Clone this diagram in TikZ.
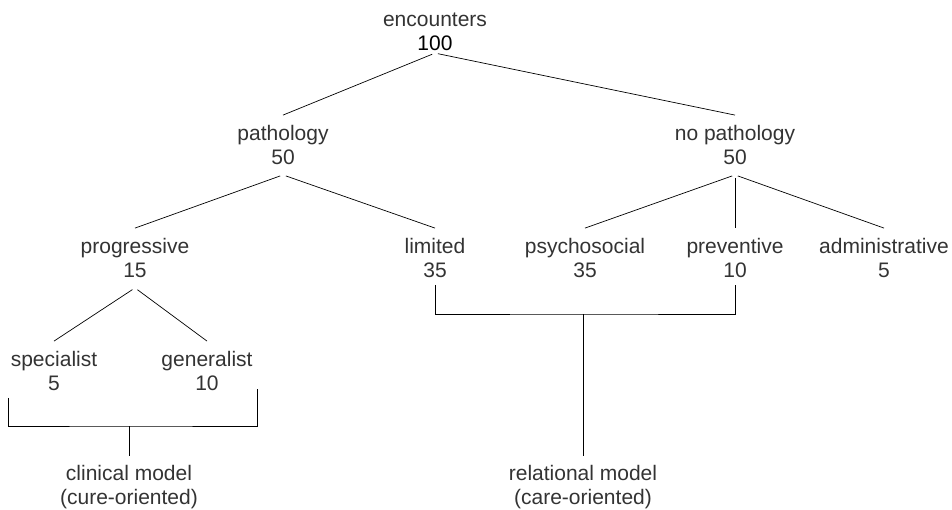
\documentclass[tikz,border=0pt]{standalone}
\usepackage{fontspec}
\setmainfont{Liberation Sans}
\usetikzlibrary{positioning}
\tikzstyle{lbl}     = [align=center, text=black!80, inner xsep=2pt, inner ysep=10pt, font=\fontsize{21}{24}\selectfont]
\tikzstyle{line}    = [draw, line width=0.7pt, shorten <=3pt]
\tikzstyle{bracket} = [draw, line width=0.7pt]

\begin{document}
\begin{tikzpicture}[x=1pt, y=-1pt, node distance=113pt]
	\useasboundingbox (0,0) rectangle (952,509);
	% Node Setting %
	\node [lbl, inner ysep=2pt] (enc) at (435,32) {encounters\\\textcolor{black}{100}};
	\node [lbl, below of = enc, xshift=-152pt] (path) {pathology\\50};
	\node [lbl, below of = enc, xshift=300pt] (nopath) {no pathology\\50};
	\node [lbl, below of = path, xshift=-148pt] (prog) {progressive\\15};
	\node [lbl, below of = path, xshift=152pt] (lim) {limited\\35};
	\node [lbl, below of = nopath, xshift=-150pt] (psy) {psychosocial\\35};
	\node [lbl, below of = nopath] (prev) {preventive\\10};
	\node [lbl, below of = nopath, xshift=149pt] (adm) {administrative\\5};
	\node [lbl, below of = prog, xshift=-81pt] (spec) {specialist\\5};
	\node [lbl, below of = prog, xshift=72pt] (gen) {generalist\\10};
	\node [lbl, below of = spec, xshift=75pt, yshift=-3.5pt] (clin) {clinical model\\(cure-oriented)};
	\node [lbl, below of = psy, xshift=-2pt, yshift=-116.5pt] (rel) {relational model\\(care-oriented)};
	\coordinate (cj) at (clin |- 0,426);
	\coordinate (rj) at (rel |- 0,314);
	% Connection %
	\path [line] (enc.south)  -- (path.north);
	\path [line] (enc.south)  -- (nopath.north);
	\path [line] (path.south)  -- (prog.north);
	\path [line] (path.south)  -- (lim.north);
	\path [line] (nopath.south)  -- (psy.north);
	\path [line] (nopath.south)  -- (prev.north);
	\path [line] (nopath.south)  -- (adm.north);
	\path [line] (prog.south)  -- (spec.north);
	\path [line] (prog.south)  -- (gen.north);
	% Brackets %
	\path [bracket] ([yshift=3pt]spec.south west) |- (cj) -| ([xshift=3pt, yshift=12pt]gen.south east);
	\path [bracket] (cj)  -- (clin.north);
	\path [bracket] ([yshift=3pt]lim.south) |- (rj) -| ([yshift=3pt]prev.south);
	\path [bracket] (rj)  -- (rel.north);
\end{tikzpicture}
\end{document}
